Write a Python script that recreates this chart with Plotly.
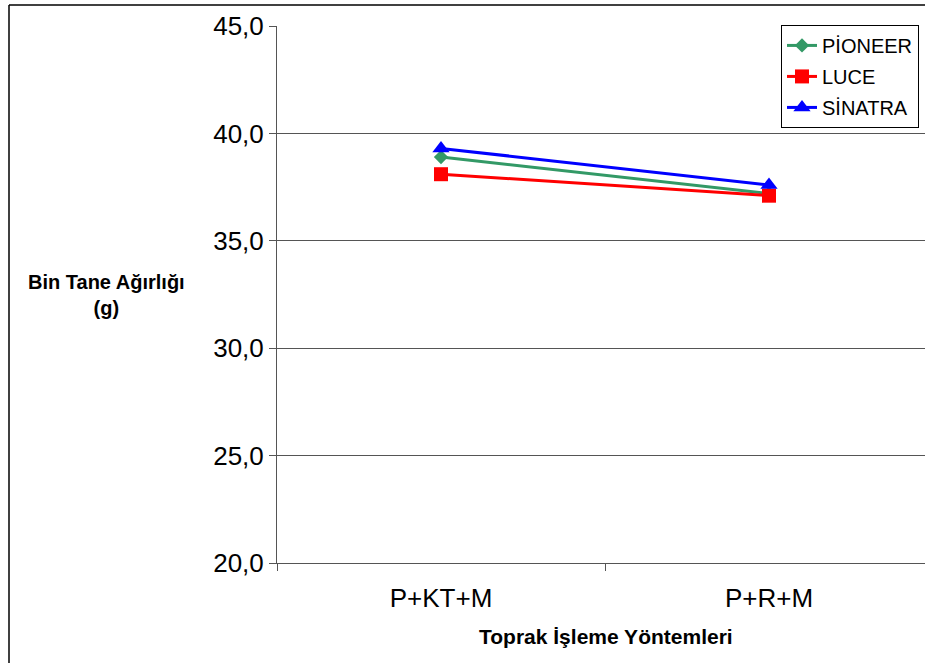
import plotly.graph_objects as go

# Tillage methods on the category axis
categories = ["P+KT+M", "P+R+M"]

# Thousand-grain weight (g) per variety
pioneer = [38.9, 37.2]
luce = [38.1, 37.1]
sinatra = [39.3, 37.6]

series_names = ["PİONEER", "LUCE", "SİNATRA"]
y_ticks = [20, 25, 30, 35, 40, 45]

W, H = 925, 663
L, R, T, B = 277, 0, 26, 100
plot_w = W - L - R
plot_h = H - T - B

fig = go.Figure()

styles = [
    dict(color="#339966", symbol="diamond", size=11),
    dict(color="#FF0000", symbol="square", size=14),
    dict(color="#0000FF", symbol="triangle-up", size=15),
]

for i, (name, vals, st) in enumerate(zip(series_names, [pioneer, luce, sinatra], styles)):
    fig.add_trace(go.Scatter(
        x=categories, y=vals, name=name, mode="lines+markers",
        line=dict(color=st["color"], width=3),
        marker=dict(color=st["color"], symbol=st["symbol"], size=st["size"]),
        legendgroup=f"g{i}",
    ))

# Each category spans 328 px; the axis runs past the right edge of the page
cat_px = 328
x_end = -0.5 + plot_w / cat_px

fig.update_layout(
    width=W, height=H,
    margin=dict(l=L, r=R, t=T, b=B, pad=0),
    paper_bgcolor="white", plot_bgcolor="white",
    font=dict(family="Liberation Sans, Arial, sans-serif", color="black"),
    separators=",.",
    showlegend=True,
    legend=dict(
        x=(781 - L) / plot_w, y=1.002, xanchor="left", yanchor="top",
        bgcolor="white", bordercolor="black", borderwidth=1,
        font=dict(size=20, family="Liberation Sans Narrow, Liberation Sans, Arial"),
        tracegroupgap=2,
        itemwidth=30,
    ),
    xaxis=dict(
        type="category", range=[-0.5, x_end],
        showgrid=False, showline=True, linecolor="#555", linewidth=1,
        ticks="outside", ticklen=7, tickcolor="#555", tickson="boundaries",
        tickfont=dict(size=26), zeroline=False, ticklabelstandoff=12,
    ),
    yaxis=dict(
        range=[20, 45], tickvals=y_ticks, tickformat=".1f",
        showgrid=True, gridcolor="#555", gridwidth=1,
        showline=True, linecolor="#555", linewidth=1,
        ticks="outside", ticklen=7, tickcolor="#555",
        tickfont=dict(size=26), zeroline=False,
    ),
    annotations=[
        dict(text="<b>Bin Tane Ağırlığı<br>(g)</b>", xref="paper", yref="paper",
             x=(106 - L) / plot_w, y=(H - B - 295) / plot_h, showarrow=False,
             xanchor="center", yanchor="middle", font=dict(size=20), align="center"),
        dict(text="<b>Toprak İşleme Yöntemleri</b>", xref="paper", yref="paper",
             x=(606 - L) / plot_w, y=(H - B - 636) / plot_h, showarrow=False,
             xanchor="center", yanchor="middle", font=dict(size=21)),
    ],
    shapes=[
        # outer chart frame (left and top edges visible)
        dict(type="line", xref="paper", yref="paper",
             x0=(9 - L) / plot_w, x1=(9 - L) / plot_w,
             y0=(H - B - 5) / plot_h, y1=(H - B - 700) / plot_h,
             line=dict(color="black", width=1.5)),
        dict(type="line", xref="paper", yref="paper",
             x0=(9 - L) / plot_w, x1=1.2,
             y0=(H - B - 5) / plot_h, y1=(H - B - 5) / plot_h,
             line=dict(color="black", width=1.5)),
    ],
)

fig.write_html("out.html")
